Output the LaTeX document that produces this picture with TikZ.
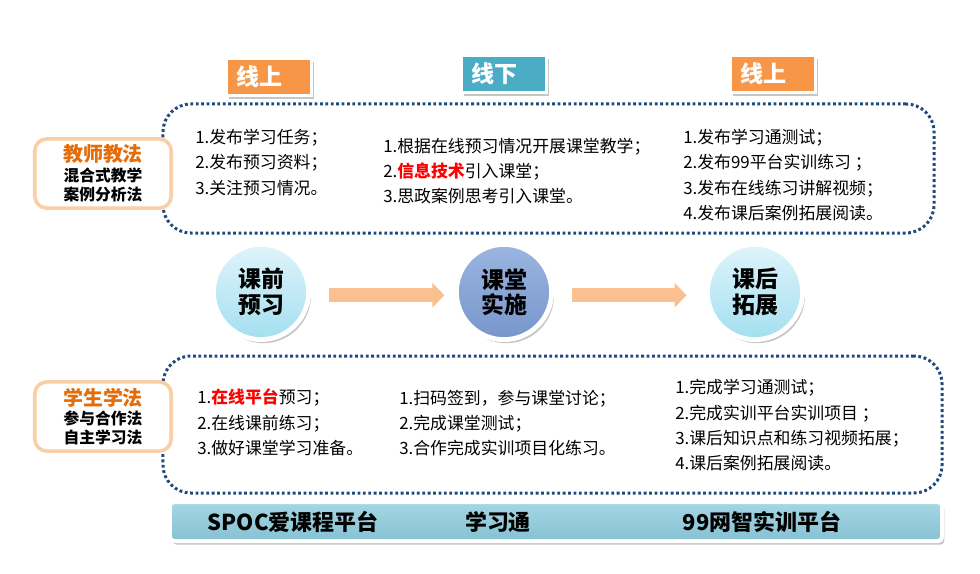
\documentclass[tikz,border=0pt]{standalone}
\usepackage{fontspec}
\setmainfont{Noto Sans CJK SC}
\usepackage{xcolor}
\usepackage{tikz}
\usetikzlibrary{arrows.meta,positioning,shadows}
\definecolor{tabOrange}{HTML}{F79646}
\definecolor{tabTeal}{HTML}{4BACC6}
\definecolor{dotNavy}{HTML}{1F497D}
\definecolor{labelPeach}{HTML}{F9CFA6}
\definecolor{labelOrange}{HTML}{E46C0A}
\definecolor{hotRed}{HTML}{FF0000}
\definecolor{arrowPeach}{HTML}{FAC090}
\definecolor{stageTop}{HTML}{DFF4FB}
\definecolor{stageBot}{HTML}{A3DFF0}
\definecolor{stageMidTop}{HTML}{9BB5E0}
\definecolor{stageMidBot}{HTML}{7896CC}
\definecolor{barTop}{HTML}{A5D6E3}
\definecolor{barBot}{HTML}{86C2D3}
\tikzset{
  softshadow/.style={drop shadow={opacity=0.45,shadow xshift=0.6mm,shadow yshift=-0.9mm}},
  modetab/.style={rectangle,draw=white,line width=0.75mm,softshadow,
    minimum width=21.25mm,minimum height=9.25mm,inner xsep=2.6mm,text width=16.05mm,
    align=left,text=white,font=\bfseries\fontsize{16.4}{18}\selectfont},
  dotbox/.style={rectangle,draw=dotNavy,line width=0.75mm,dash pattern=on 0.7mm off 0.65mm,
    rounded corners=7mm},
  methodbox/.style={rectangle,draw=labelPeach,fill=white,line width=0.9mm,rounded corners=3mm,
    minimum width=34.1mm,minimum height=17.3mm,align=center,
    font=\bfseries\fontsize{11.2}{13.5}\selectfont},
  itemtext/.style={anchor=west,inner sep=0pt,align=left,font=\fontsize{12}{18}\selectfont},
  stagecircle/.style={circle,draw=white,line width=1.2mm,minimum size=23.8mm,softshadow,
    top color=stageTop,bottom color=stageBot,align=center,
    font=\bfseries\fontsize{16.3}{18}\selectfont},
  flowarrow/.style={draw=arrowPeach,line width=3.5mm,-{Triangle[length=3mm,width=6mm]},
    shorten <=4.4mm},
  platformbar/.style={rectangle,draw=white,line width=1mm,rounded corners=1mm,softshadow,
    top color=barTop,bottom color=barBot,minimum width=193mm,minimum height=9.75mm},
  platformtext/.style={inner sep=0pt,font=\bfseries\fontsize{15.6}{18}\selectfont}
}
\newcommand{\hot}[1]{\textcolor{hotRed}{\bfseries #1}}

\begin{document}
\begin{tikzpicture}[x=0.25mm,y=-0.25mm]
  \useasboundingbox (0,0) rectangle (980,574);
  \node[modetab,fill=tabOrange] (online1) at (269,77) {线上};
  \node[modetab,fill=tabTeal] (offline) at (504,74) {线下};
  \node[modetab,fill=tabOrange] (online2) at (773,74) {线上};
  \node[dotbox,minimum width=192.75mm,minimum height=32.25mm] (teachbox) at (548.5,168.5) {};
  \node[dotbox,minimum width=194.75mm,minimum height=34.25mm] (learnbox) at (552.5,424.5) {};
  \node[methodbox] (teach) at (103,173.5) {{\fontsize{14.2}{16}\selectfont\color{labelOrange}教师教法}\\[1pt]混合式教学\\案例分析法};
  \node[methodbox] (learn) at (103,416.5) {{\fontsize{14.2}{16}\selectfont\color{labelOrange}学生学法}\\[0pt]参与合作法\\自主学习法};
  \node[itemtext] (teachpre) at (195,162.5) {1.发布学习任务；\\2.发布预习资料；\\3.关注预习情况。};
  \node[itemtext] (teachin) at (383,171) {1.根据在线预习情况开展课堂教学；\\2.\hot{信息技术}引入课堂；\\3.思政案例思考引入课堂。};
  \node[itemtext] (teachpost) at (683,175) {1.发布学习通测试；\\2.发布99平台实训练习 ；\\3.发布在线练习讲解视频；\\4.发布课后案例拓展阅读。};
  \node[itemtext] (learnpre) at (197,422.5) {1.\hot{在线平台}预习；\\2.在线课前练习；\\3.做好课堂学习准备。};
  \node[itemtext] (learnin) at (399,423) {1.扫码签到，参与课堂讨论；\\2.完成课堂测试；\\3.合作完成实训项目化练习。};
  \node[itemtext] (learnpost) at (675,425.5) {1.完成学习通测试；\\2.完成实训平台实训项目 ；\\3.课后知识点和练习视频拓展；\\4.课后案例拓展阅读。};
  \node[stagecircle] (pre) at (261,292) {课前\\预习};
  \node[stagecircle,top color=stageMidTop,bottom color=stageMidBot] (mid) at (504,292) {课堂\\实施};
  \node[stagecircle] (post) at (755,292) {课后\\拓展};
  \draw[flowarrow,shorten >=2.4mm] ([yshift=-0.8mm]pre.east) -- ([yshift=-0.8mm]mid.west);
  \draw[flowarrow,shorten >=4.6mm] ([yshift=-0.8mm]mid.east) -- ([yshift=-0.8mm]post.west);
  \node[platformbar] (bar) at (556,521.5) {};
  \node[platformtext] (spoc) at (293,522) {SPOC爱课程平台};
  \node[platformtext] (xxt) at (498,522) {学习通};
  \node[platformtext] (net99) at (762,522) {99网智实训平台};
\end{tikzpicture}
\end{document}
